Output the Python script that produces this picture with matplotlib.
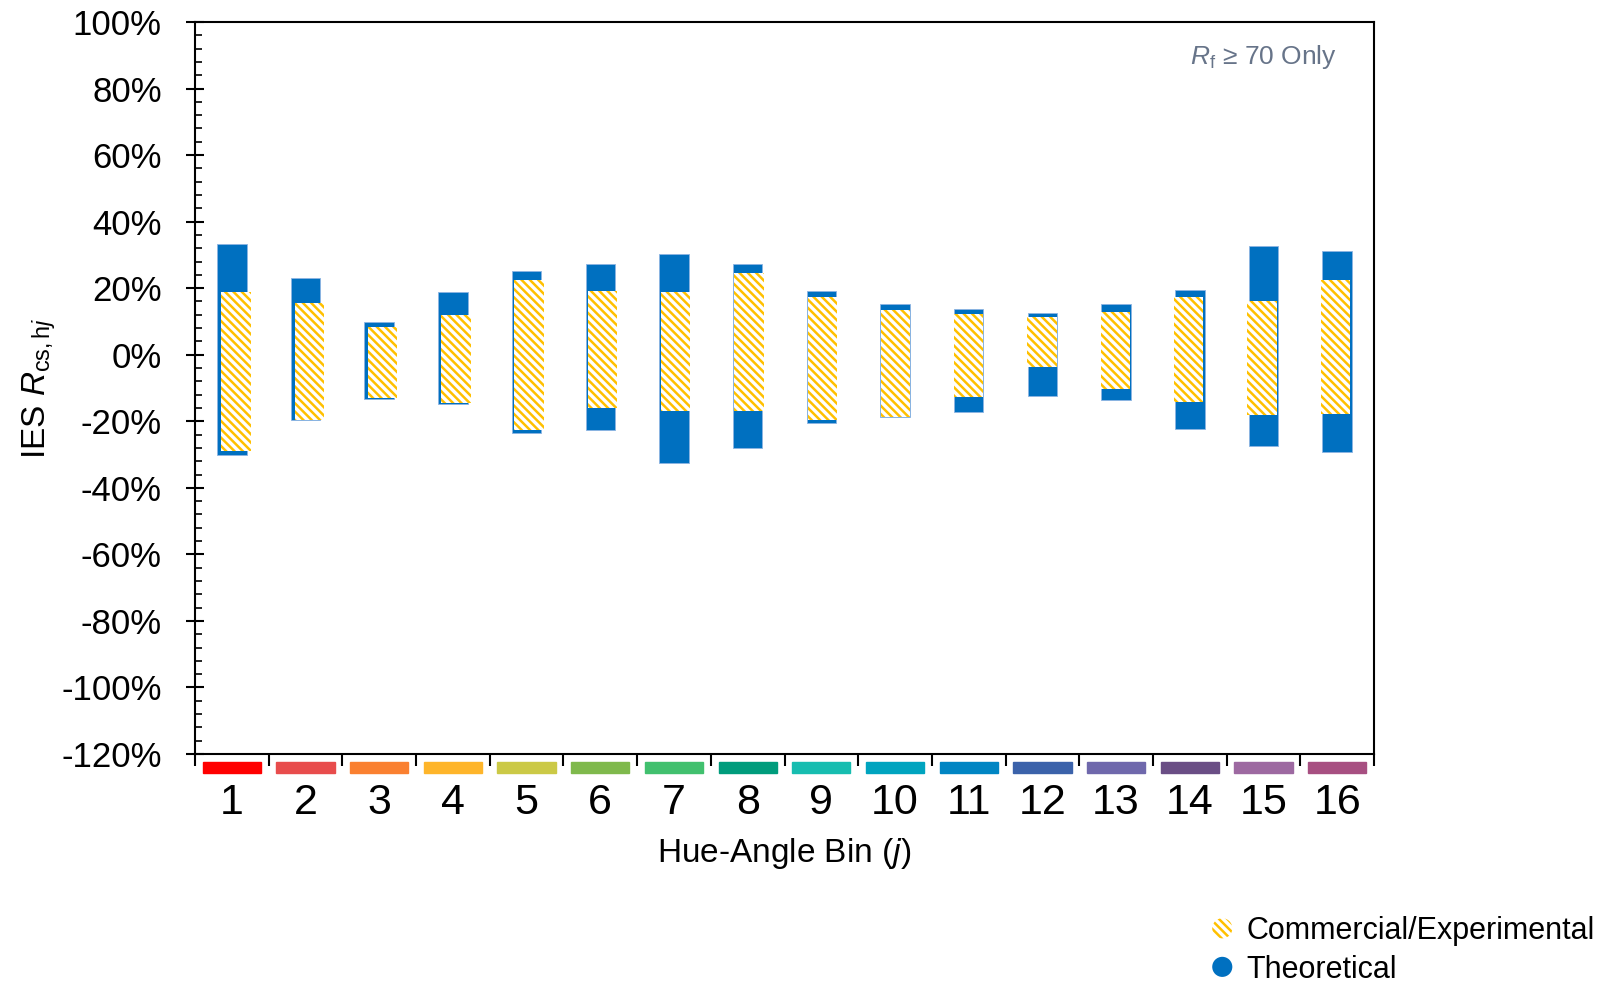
import numpy as np
import matplotlib
matplotlib.use('Agg')
import matplotlib.pyplot as plt
import matplotlib.patches as mpatches
from matplotlib.legend_handler import HandlerPatch
from matplotlib.ticker import MultipleLocator, FuncFormatter, NullFormatter

# hue-angle bins and their TM-30 colours
bins = list(range(1, 17))
hue_colors = ['#FF0000', '#E84C4C', '#FA8030', '#FEB52A', '#CBC946', '#7FB94C',
              '#41C06E', '#009C7C', '#17BDB0', '#00A4BF', '#0085C3', '#3B62AA',
              '#6F68AC', '#6A4E85', '#9D69A1', '#A74F81']

# Rcs,hj ranges (%) - theoretical
theo_hi = [33.2, 23.2, 9.7, 19.0, 25.2, 27.2, 30.2, 27.3, 19.3, 15.3, 13.7, 12.5, 15.2, 19.4, 32.6, 31.3]
theo_lo = [-30.0, -19.5, -13.3, -14.8, -23.5, -22.5, -32.5, -28.0, -20.5, -18.8, -17.3, -12.5, -13.5, -22.3, -27.3, -29.3]
# commercial / experimental
comm_hi = [19.0, 15.6, 8.3, 11.8, 22.5, 19.3, 18.8, 24.5, 17.3, 13.5, 12.2, 11.2, 12.9, 17.3, 16.2, 22.4]
comm_lo = [-29.0, -19.5, -13.0, -14.5, -22.5, -16.0, -16.8, -16.8, -19.5, -18.6, -12.8, -3.6, -10.2, -14.1, -18.2, -17.9]

plt.rcParams['font.family'] = 'Liberation Sans'
plt.rcParams['mathtext.fontset'] = 'custom'
plt.rcParams['mathtext.rm'] = 'Liberation Sans'
plt.rcParams['mathtext.it'] = 'Liberation Sans:italic'
plt.rcParams['hatch.linewidth'] = 1.8

W, H = 1604, 984
fig = plt.figure(figsize=(W / 100, H / 100), dpi=100)
ax = fig.add_axes([195 / W, 1 - 754 / H, 1179 / W, 732 / H])

x = np.array(bins)
t_hi, t_lo = np.array(theo_hi), np.array(theo_lo)
c_hi, c_lo = np.array(comm_hi), np.array(comm_lo)

ax.bar(x, t_hi - t_lo, bottom=t_lo, width=0.4, color='#0070C0',
       edgecolor='#8DB4E2', linewidth=0.6)

# commercial bars sit on a secondary category axis (slightly shifted, like Excel)
ax2 = ax.twiny()
ax2.bar(x, c_hi - c_lo, bottom=c_lo, width=0.4, color='white',
        edgecolor='#FFC000', hatch='\\\\\\\\', linewidth=0)
ax2.set_xlim(0.44, 16.53)
ax2.axis('off')

ax.set_xlim(0.5, 16.5)
ax.set_ylim(-120, 100)

# x axis: ticks between bins, labels at bin centres
ax.set_xticks(np.arange(0.5, 17, 1))
ax.xaxis.set_major_formatter(NullFormatter())
ax.set_xticks(x, minor=True)
ax.set_xticklabels([str(b) for b in bins], minor=True)
ax.tick_params(axis='x', which='major', direction='out', length=8.6, width=1.5)
ax.tick_params(axis='x', which='minor', length=0, pad=21, labelsize=31)

ax.yaxis.set_major_locator(MultipleLocator(20))
ax.yaxis.set_minor_locator(MultipleLocator(4))
ax.yaxis.set_major_formatter(FuncFormatter(lambda v, p: f'{v:.0f}%'))
ax.tick_params(axis='y', which='major', direction='inout', length=13, width=1.5,
               pad=17.5, labelsize=25)
ax.tick_params(axis='y', which='minor', direction='in', length=5, width=1.2)

for s in ax.spines.values():
    s.set_linewidth(1.5)

# hue colour strips under the axis
for i, c in zip(bins, hue_colors):
    ax.add_patch(mpatches.Rectangle((i - 0.395, -0.026), 0.79, 0.015, color=c,
                                    transform=ax.get_xaxis_transform(), clip_on=False))

ax.set_ylabel(r'IES $R_{\mathrm{cs,h}j}$', fontsize=24, labelpad=2)
ax.set_xlabel('Hue-Angle Bin ($j$)', fontsize=24, labelpad=9)

ax.text(0.9686, 0.952, r'$R_\mathrm{f}$ ≥ 70 Only', transform=ax.transAxes,
        ha='right', va='center', fontsize=19, color='#677489')


def circle_patch(legend, orig_handle, xdescent, ydescent, width, height, fontsize):
    return mpatches.Circle((-xdescent + width / 2, -ydescent + height / 2), height * 0.47)


h_comm = mpatches.Patch(facecolor='white', edgecolor='#FFC000', hatch='\\\\\\\\', linewidth=0)
h_theo = mpatches.Patch(facecolor='#0070C0', linewidth=0)
fig.legend([h_comm, h_theo], ['Commercial/Experimental', 'Theoretical'],
           loc='upper left', bbox_to_anchor=(1207 / W, 1 - 916 / H),
           frameon=False, fontsize=22, handlelength=1.0, handletextpad=0.3,
           labelspacing=0.28, borderpad=0, borderaxespad=0,
           handler_map={mpatches.Patch: HandlerPatch(patch_func=circle_patch)})

fig.savefig('out.png', dpi=100)
